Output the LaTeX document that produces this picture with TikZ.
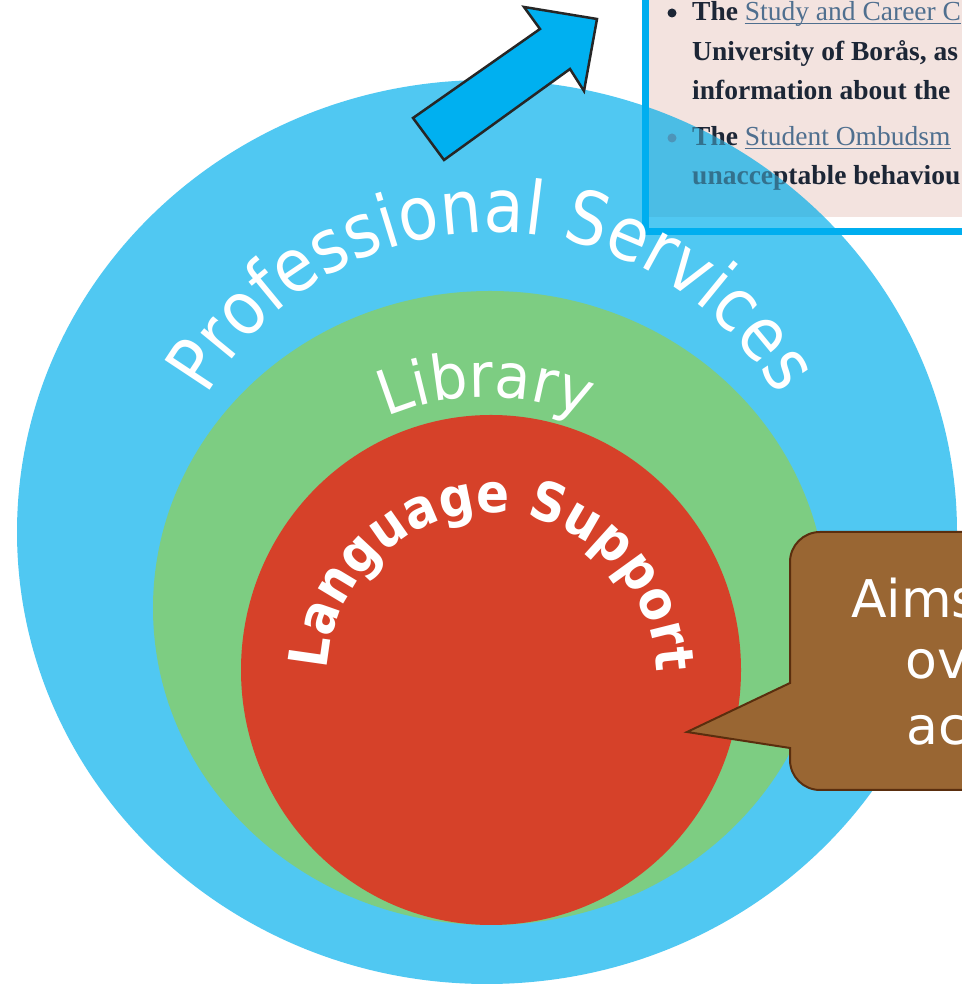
\documentclass[tikz,border=0pt]{standalone}
\usepackage{fontspec}
\setmainfont{Liberation Serif}
\newfontfamily\dvs{DejaVu Sans}
\newfontfamily\psf{DejaVu Sans}[FakeStretch=0.88]
\newfontfamily\lbf{DejaVu Sans}[FakeStretch=0.94]
\newfontfamily\lsf{DejaVu Sans}[FakeStretch=0.9]
\usetikzlibrary{decorations.text}
\definecolor{psblue}{HTML}{50C8F2}
\definecolor{libgreen}{HTML}{7DCD82}
\definecolor{lsred}{HTML}{D64129}
\definecolor{calbrown}{HTML}{996633}
\definecolor{calborder}{HTML}{5A2E0E}
\definecolor{arrowblue}{HTML}{00B0F0}
\definecolor{boxborder}{HTML}{00AEEF}
\definecolor{boxpink}{HTML}{F3E3DF}
\definecolor{txtdark}{HTML}{1C2636}
\definecolor{linkc}{HTML}{4F6F8F}
\newcommand\boxtxt[1]{%
  \fill[txtdark] (672,974) circle (4.5);
  \node[bt, text=txtdark] (the1#1) at (692,966) {The};
  \node[lt] (lk1#1) at (744.7,966) {Study and Career C};
  \draw[linkc, line width=1.4] ([yshift=-2.5pt]lk1#1.base west) -- ([yshift=-2.5pt]lk1#1.base east);
  \node[bt, text=txtdark] (uni#1) at (692,926) {University of Borås, as};
  \node[bt, text=txtdark] (inf#1) at (692,887) {information about the};
  \fill[linkc] (672,849) circle (4.5);
  \node[bt, text=txtdark] (the2#1) at (692,841) {The};
  \node[lt] (lk2#1) at (744.7,841) {Student Ombudsm};
  \draw[linkc, line width=1.4] ([yshift=-2.5pt]lk2#1.base west) -- ([yshift=-2.5pt]lk2#1.base east);
  \node[bt, text=txtdark] (una#1) at (692,802) {unacceptable behaviou};
}
\begin{document}
\begin{tikzpicture}[x=1pt,y=1pt,
  bt/.style={anchor=base west, inner sep=0pt, font=\fontsize{27.5}{30}\selectfont\bfseries},
  lt/.style={anchor=base west, inner sep=0pt, text=linkc, font=\fontsize{27.5}{30}\selectfont},
  ct/.style={anchor=base west, inner sep=0pt, text=white, font=\dvs\fontsize{52}{52}\selectfont}]
\useasboundingbox (0,0) rectangle (961,987);
\fill[white] (0,0) rectangle (961,987);
% text box (screenshot)
\fill[white] (645,755) rectangle (970,995);
\fill[boxpink] (649,770) rectangle (970,995);
\boxtxt{a}
% professional services ellipse
\fill[psblue] (487,455) ellipse [x radius=470, y radius=452];
\begin{scope}
  \clip (487,455) ellipse [x radius=470, y radius=452];
  \fill[black, opacity=0.05] (649,770) rectangle (970,995);
  \begin{scope}[opacity=0.5]
    \boxtxt{b}
  \end{scope}
\end{scope}
% box border
\draw[boxborder, line width=7] (645.5,1000) -- (645.5,755.5) -- (975,755.5);
% arrow
\draw[fill=arrowblue, draw=black!85, line width=2.5, line join=miter]
  (413,869) -- (444,827) -- (570,918) -- (584,896) -- (597,968) -- (524,980) -- (540,958) -- cycle;
% library and language support
\fill[libgreen] (490,379) ellipse [x radius=337, y radius=317];
\fill[lsred] (491,317) ellipse [x radius=250, y radius=255];
% arc texts
\path[decorate, decoration={text along path, text align=center, text color=white,
  text={|\psf\fontsize{74}{74}\selectfont|Professional Services}}]
  ([shift={(160:330)}]492,425) arc[start angle=160, end angle=20, radius=330];
\path[decorate, decoration={text along path, text align=center, text color=white,
  text={|\lbf\fontsize{62}{62}\selectfont|Library}}]
  ([shift={(125:253)}]486,337) arc[start angle=125, end angle=55, radius=253];
\path[decorate, decoration={text along path, text align=center, text color=white,
  text={|\lsf\bfseries\fontsize{54}{54}\selectfont|Language Support}}]
  ([shift={(184:165)}]492,309) arc[start angle=184, end angle=-5, radius=165];
% callout
\draw[fill=calbrown, draw=calborder, line width=2]
  (1000,455) -- (820,455) arc[start angle=90, end angle=180, radius=30]
  -- (790,304) -- (687,255) -- (790,239) -- (790,227)
  arc[start angle=180, end angle=270, radius=30] -- (1000,197) -- cycle;
\node[ct] (aims) at (851,369) {Aims};
\node[ct] (ov) at (905,308) {ov};
\node[ct] (ac) at (906,242) {ac};
\end{tikzpicture}
\end{document}
